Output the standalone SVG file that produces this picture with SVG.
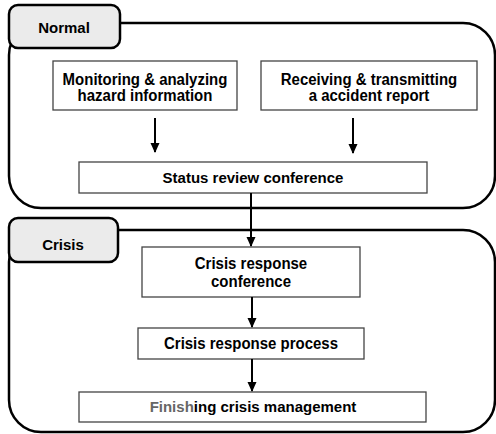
<svg xmlns="http://www.w3.org/2000/svg" width="496" height="434" viewBox="0 0 496 434">
<defs>
<marker id="ah" markerWidth="10" markerHeight="10" refX="9" refY="5" orient="auto" markerUnits="userSpaceOnUse" viewBox="0 0 10 10">
<path d="M0,0.5 L10,5 L0,9.5 Z" fill="#000"/>
</marker>
<style>
.cont{fill:#fff;stroke:#000;stroke-width:2.5}
.tab{fill:#ebebeb;stroke:#000;stroke-width:2.5}
.box{fill:#fff;stroke:#444;stroke-width:1.3}
.t{font-family:"Liberation Sans",Arial,sans-serif;font-weight:bold;font-size:15px;fill:#000;text-anchor:middle}
.conn{stroke:#000;stroke-width:2;fill:none}
</style>
</defs>
<g id="normal-group">
<rect class="cont" x="9" y="23" width="486" height="185" rx="32" ry="32"/>
<rect class="tab" x="9" y="5" width="111" height="43" rx="9" ry="9"/>
<text class="t" x="64" y="33">Normal</text>
</g>
<g id="crisis-group">
<rect class="cont" x="9" y="230" width="486" height="202" rx="32" ry="32"/>
<rect class="tab" x="9" y="218" width="109" height="44" rx="9" ry="9"/>
<text class="t" x="63" y="250">Crisis</text>
</g>
<g id="monitoring">
<rect class="box" x="53" y="61" width="184" height="49"/>
<text class="t" transform="translate(145,84.5) scale(1,1.12)"><tspan x="0" y="0">Monitoring &amp; analyzing</tspan><tspan x="0" y="14.5">hazard information</tspan></text>
</g>
<g id="receiving">
<rect class="box" x="261" y="61" width="216" height="49"/>
<text class="t" transform="translate(369,84.5) scale(1,1.12)"><tspan x="0" y="0">Receiving &amp; transmitting</tspan><tspan x="0" y="14.5">a accident report</tspan></text>
</g>
<g id="status">
<rect class="box" x="79" y="162" width="348" height="31"/>
<text class="t" transform="translate(253,183) scale(1,1.03)">Status review conference</text>
</g>
<g id="crisis-conf">
<rect class="box" x="142" y="247" width="218" height="50"/>
<text class="t" transform="translate(251,269) scale(1,1.06)"><tspan x="0" y="0">Crisis response</tspan><tspan x="0" y="17">conference</tspan></text>
</g>
<g id="crisis-proc">
<rect class="box" x="138" y="328" width="226" height="31"/>
<text class="t" transform="translate(251,349) scale(1,1.06)">Crisis response process</text>
</g>
<g id="finish">
<rect class="box" x="79" y="392" width="347" height="30"/>
<text class="t" x="253" y="412"><tspan fill="#666">Finish</tspan>ing crisis management</text>
</g>
<g id="connectors">
<line class="conn" x1="155" y1="118" x2="155" y2="152" marker-end="url(#ah)"/>
<line class="conn" x1="353" y1="118" x2="353" y2="153" marker-end="url(#ah)"/>
<line class="conn" x1="251" y1="193" x2="251" y2="246" marker-end="url(#ah)"/>
<line class="conn" x1="252" y1="297" x2="252" y2="327" marker-end="url(#ah)"/>
<line class="conn" x1="252" y1="359" x2="252" y2="391" marker-end="url(#ah)"/>
</g>
</svg>
